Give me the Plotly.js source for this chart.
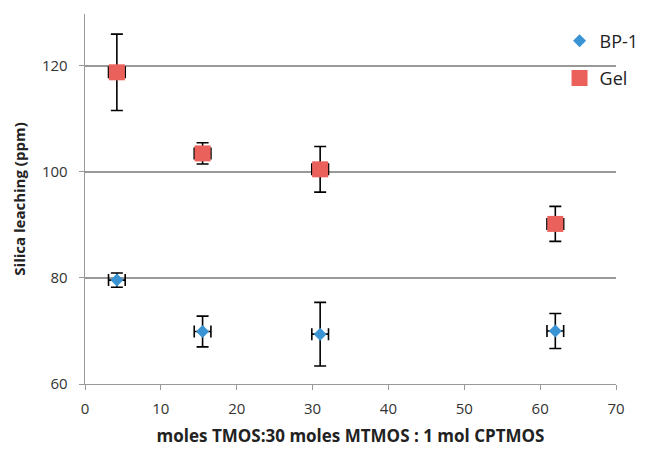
<!DOCTYPE html>
<html><head><meta charset="utf-8">
<script src="https://cdn.plot.ly/plotly-3.0.1.min.js"></script>
<style>html,body{margin:0;padding:0;background:#fff}</style>
</head><body>
<div id="chart" style="width:655px;height:449px"></div>
<script>
const ratio = [4.2, 15.5, 31, 62];
const bp1 = [79.6, 69.9, 69.4, 70.0];
const bp1Err = [1.35, 2.9, 6.0, 3.3];
const gel = [118.8, 103.5, 100.5, 90.2];
const gelErr = [7.2, 2.0, 4.3, 3.3];
const xErr = [1.1, 1.1, 1.1, 1.1];

const errStyle = {color: '#000', thickness: 1.6, width: 6};
const traces = [
  {x: ratio, y: bp1, name: 'BP-1', mode: 'markers', type: 'scatter', legendgroup: 'a',
   marker: {symbol: 'diamond', size: 10, color: '#3A94D4'},
   error_y: Object.assign({type: 'data', array: bp1Err, visible: true}, errStyle),
   error_x: Object.assign({type: 'data', array: xErr, visible: true}, errStyle)},
  {x: ratio, y: gel, name: 'Gel', mode: 'markers', type: 'scatter', legendgroup: 'b',
   marker: {symbol: 'square', size: 16, color: '#EA605A'},
   error_y: Object.assign({type: 'data', array: gelErr, visible: true}, errStyle),
   error_x: Object.assign({type: 'data', array: xErr, visible: true}, errStyle)}
];
const layout = {
  width: 655, height: 449,
  margin: {l: 85, r: 38, t: 14, b: 65},
  paper_bgcolor: '#fff', plot_bgcolor: '#fff',
  font: {family: 'Open Sans, sans-serif', size: 15, color: '#333'},
  showlegend: true,
  legend: {x: 0.892, xanchor: 'left', y: 0.977, yanchor: 'top', traceorder: 'grouped',
           tracegroupgap: 11, font: {size: 18, color: '#222'}, bgcolor: 'rgba(0,0,0,0)'},
  xaxis: {range: [0, 70], dtick: 10, tick0: 0, showgrid: false, zeroline: false,
          showline: true, linecolor: '#999', linewidth: 1.3,
          ticks: 'outside', ticklen: 5, tickcolor: '#999', ticklabelstandoff: 6,
          title: {text: '<b>moles TMOS:30 moles MTMOS : 1 mol CPTMOS</b>', font: {size: 17, color: '#222'}, standoff: 12}},
  yaxis: {range: [60, 129.8], dtick: 20, tick0: 60, showgrid: true, gridcolor: '#999', gridwidth: 1.3,
          zeroline: false, showline: true, linecolor: '#999', linewidth: 1.3,
          ticks: 'outside', ticklen: 5, tickcolor: '#999', ticklabelstandoff: 8,
          title: {text: '<b>Silica leaching (ppm)</b>', font: {size: 15, color: '#222'}, standoff: 12}}
};
Plotly.newPlot('chart', traces, layout, {displayModeBar: false, staticPlot: true});
</script>
</body></html>
